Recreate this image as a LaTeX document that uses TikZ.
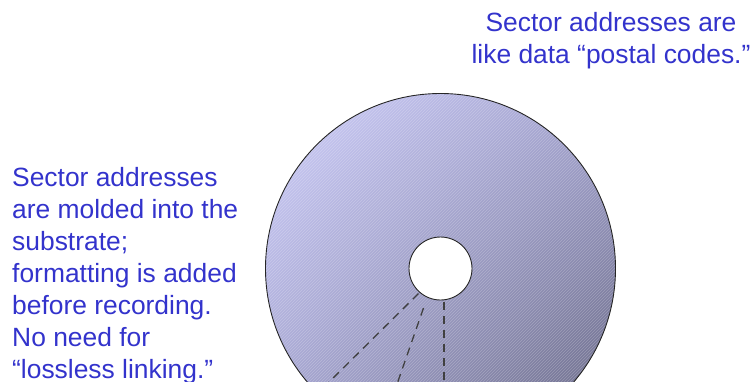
\documentclass[tikz,border=0pt]{standalone}
\usepackage{fontspec}
\setmainfont{Liberation Sans}
\usepackage{xcolor}
\usetikzlibrary{calc, shadings}
\definecolor{notetext}{RGB}{51,51,204}
\definecolor{disclight}{RGB}{206,206,250}
\definecolor{discmid}{RGB}{160,160,205}
\definecolor{discdark}{RGB}{96,96,124}

\begin{document}
\begin{tikzpicture}[x=1pt, y=-1pt,
    note/.style={text=notetext, font=\fontsize{26.4}{32}\selectfont, inner sep=0pt},
    hatch/.style={draw=white, line width=0.8pt, opacity=0.22},
    sectorline/.style={draw=black!75, line width=1.3pt, dash pattern=on 8pt off 6pt}]
\clip (0,0) rectangle (755,381);

% Disc
\coordinate (hub) at (440.5,268.5);
\shade[upper left=disclight, upper right=discmid, lower left=discmid, lower right=discdark] (hub) circle (175);
\begin{scope}
  \clip (hub) circle (175);
  \foreach \k in {-360,-357,...,360}
    \draw[hatch] ($(hub)+(\k-190,190)$) -- ++(380,-380);
\end{scope}
\draw[black!85, line width=0.9pt] (hub) circle (175);

% Hole
\node[circle, draw=black!85, fill=white, line width=0.9pt, minimum size=63pt, inner sep=0pt] (hole) at (hub) {};

% Sector lines
\coordinate (s1a) at (418.5,293.5);
\coordinate (s1b) at (326,385);
\coordinate (s2a) at (423.5,308);
\coordinate (s2b) at (396.7,385);
\coordinate (s3a) at (444,301.5);
\coordinate (s3b) at (444,385);
\draw[sectorline] (s1a) -- (s1b);
\draw[sectorline] (s2a) -- (s2b);
\draw[sectorline] (s3a) -- (s3b);

% Notes
\node[note, anchor=north west, align=left] (moldnote) at (12,167) {Sector addresses\\are molded into the\\substrate;\\formatting is added\\before recording.\\No need for\\“lossless linking.”};
\node[note, anchor=north, align=center] (postnote) at (611,12) {Sector addresses are\\like data “postal codes.”};
\end{tikzpicture}
\end{document}
